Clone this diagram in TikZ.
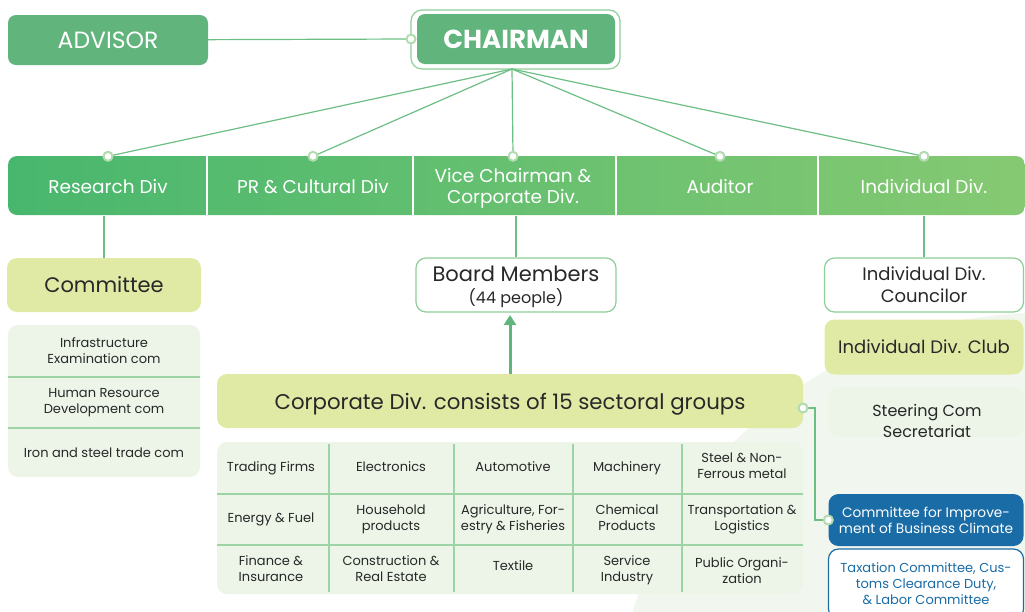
\documentclass[tikz,border=0pt]{standalone}
\usepackage{fontspec}
\setmainfont{Poppins}
\usetikzlibrary{arrows.meta}
\definecolor{headgreen}{RGB}{96,180,124}
\definecolor{linkgreen}{RGB}{108,190,132}
\definecolor{jointgreen}{RGB}{178,220,176}
\definecolor{barleft}{RGB}{72,183,110}
\definecolor{barright}{RGB}{134,201,114}
\definecolor{lime}{RGB}{224,234,165}
\definecolor{pale}{RGB}{236,245,232}
\definecolor{backdrop}{RGB}{241,247,239}
\definecolor{rimgreen}{RGB}{142,206,152}
\definecolor{rulegreen}{RGB}{156,212,166}
\definecolor{bizblue}{RGB}{26,108,166}
\definecolor{ink}{RGB}{40,40,40}
\tikzset{
	headbox/.style={rectangle, rounded corners=8pt, fill=headgreen, text=white,
			minimum width=200pt, minimum height=50pt, font=\fontsize{23.5}{26}\selectfont},
	divlabel/.style={minimum width=200pt, minimum height=59pt, text=white, align=center, text depth=0pt,
			font=\fontsize{18.5}{21}\selectfont},
	limebox/.style={rectangle, rounded corners=10pt, fill=lime, text=ink, align=center, text depth=0pt,
			minimum width=194pt, minimum height=54pt},
	rimbox/.style={rectangle, rounded corners=10pt, draw=rimgreen, line width=1.2pt, fill=white,
			text=ink, align=center, text depth=0pt, minimum width=199pt, minimum height=54pt},
	cell/.style={align=center, text=ink, text depth=0pt, font=\fontsize{13}{16}\selectfont},
	link/.style={draw=linkgreen, line width=1.2pt},
	joint/.style={draw=jointgreen, fill=white, line width=2pt},
	rule/.style={draw=rulegreen, line width=1.5pt}
}

\begin{document}
\begin{tikzpicture}[x=1pt, y=-1pt]
	\useasboundingbox (0,0) rectangle (1025,611);
	% faint backdrop, lower right
	\begin{scope}
		\clip (0,0) rectangle (1025,611);
		\fill[backdrop] (1040,740) circle (427);
	\end{scope}

	% top
	\node[headbox] (advisor) at (108,40) {ADVISOR};
	\node[headbox, minimum width=198pt, font=\fontsize{26}{28}\bfseries\selectfont] (chairman) at (516,39) {CHAIRMAN};
	\draw[rimgreen, line width=1.2pt, rounded corners=11pt] (411,10) rectangle (620,69);
	\coordinate (chairdock) at (411,39);
	\coordinate (chairfoot) at (512,69);

	% division bar
	\shade[left color=barleft, right color=barright, rounded corners=9pt] (8,156) rectangle (1025,215);
	\foreach \sx in {207,413,616,818}
		\draw[white, line width=2pt] (\sx,156) -- (\sx,215);
	\node[divlabel] (research) at (108,186) {Research Div};
	\node[divlabel] (prdiv) at (313,186) {PR \& Cultural Div};
	\node[divlabel] (vicediv) at (513,186) {Vice Chairman \&\\Corporate Div.};
	\node[divlabel] (auditor) at (720,186) {Auditor};
	\node[divlabel] (indivdiv) at (924,186) {Individual Div.};

	\draw[link] (advisor) -- (chairdock);
	\foreach \d in {research,prdiv,vicediv,auditor,indivdiv}
		\draw[link] (chairfoot) -- (\d.north);
	\foreach \d in {research,prdiv,vicediv,auditor,indivdiv}
		\draw[joint] (\d.north) circle (4.5);
	\draw[joint] (chairdock) circle (4.5);

	% left column
	\node[limebox, font=\fontsize{21}{24}\selectfont] (committee) at (104,285) {Committee};
	\draw[link] (committee.north) -- (committee.north |- research.south);
	\fill[pale, rounded corners=10pt] (8,325) rectangle (200,477);
	\draw[rule] (8,377) -- (200,377);
	\draw[rule] (8,428) -- (200,428);
	\node[cell] (infra) at (104,351) {Infrastructure\\Examination com};
	\node[cell] (human) at (104,401) {Human Resource\\Development com};
	\node[cell] (ironsteel) at (104,453) {Iron and steel trade com};

	% middle
	\node[rimbox, minimum width=200pt, font=\fontsize{21}{23}\selectfont] (board) at (516,285)
		{Board Members\\[-1pt]{\fontsize{16}{18}\selectfont(44 people)}};
	\draw[link] (board.north) -- (board.north |- vicediv.south);
	\node[limebox, minimum width=586pt, font=\fontsize{21.3}{24}\selectfont] (corporate) at (510,401)
		{Corporate Div. consists of 15 sectoral groups};
	\draw[-{Triangle[length=10pt, width=12pt]}, headgreen, line width=3pt] (corporate.north -| 510,0) -- (510,315);

	% sectoral groups
	\fill[pale, rounded corners=10pt] (217,442) rectangle (803,594);
	\foreach \sx in {329,454,573,682}
		\draw[rule] (\sx,444) -- (\sx,592);
	\draw[rule] (217,494) -- (803,494);
	\draw[rule] (217,545) -- (803,545);
	\node[cell] (trading) at (271,467) {Trading Firms};
	\node[cell] (electronics) at (391,467) {Electronics};
	\node[cell] (automotive) at (513,467) {Automotive};
	\node[cell] (machinery) at (627,467) {Machinery};
	\node[cell] (steel) at (742,466) {Steel \& Non-\\Ferrous metal};
	\node[cell] (energy) at (271,518) {Energy \& Fuel};
	\node[cell] (household) at (391,518) {Household\\products};
	\node[cell] (agri) at (513,518) {Agriculture, For-\\estry \& Fisheries};
	\node[cell] (chemical) at (627,518) {Chemical\\Products};
	\node[cell] (transport) at (742,518) {Transportation \&\\Logistics};
	\node[cell] (finance) at (271,569) {Finance \&\\Insurance};
	\node[cell] (construction) at (391,569) {Construction \&\\Real Estate};
	\node[cell] (textile) at (513,566) {Textile};
	\node[cell] (service) at (627,569) {Service\\Industry};
	\node[cell] (public) at (742,571) {Public Organi-\\zation};

	% right column
	\node[rimbox, font=\fontsize{18}{22}\selectfont] (councilor) at (924,285) {Individual Div.\\Councilor};
	\draw[link] (councilor.north) -- (councilor.north |- indivdiv.south);
	\node[limebox, minimum width=199pt, minimum height=55pt, font=\fontsize{18}{22}\selectfont] (club) at (924,347) {Individual Div. Club};
	\fill[pale, rounded corners=10pt] (828,387) rectangle (1024,437);
	\node[text=ink, align=center, font=\fontsize{16}{21}\selectfont] (steering) at (927,421) {Steering Com\\Secretariat};
	\node[rectangle, rounded corners=10pt, fill=bizblue, text=white, align=center, minimum width=195pt, minimum height=52pt,
		font=\fontsize{13.7}{16}\selectfont] (bizclimate) at (926,520) {Committee for Improve-\\ment of Business Climate};
	\node[rectangle, rounded corners=10pt, draw=bizblue, line width=1.2pt, fill=white, text=bizblue, align=center,
		minimum width=195pt, minimum height=70pt, font=\fontsize{13}{16}\selectfont] (taxation) at (926,584)
		{Taxation Committee, Cus-\\toms Clearance Duty,\\\& Labor Committee};
	\coordinate (corpdock) at (803,408);
	\draw[link] (corpdock) -- (815,408) |- (bizclimate.west);
	\draw[joint] (corpdock) circle (4.5);
	\draw[joint] (bizclimate.west) circle (4.5);
\end{tikzpicture}
\end{document}
